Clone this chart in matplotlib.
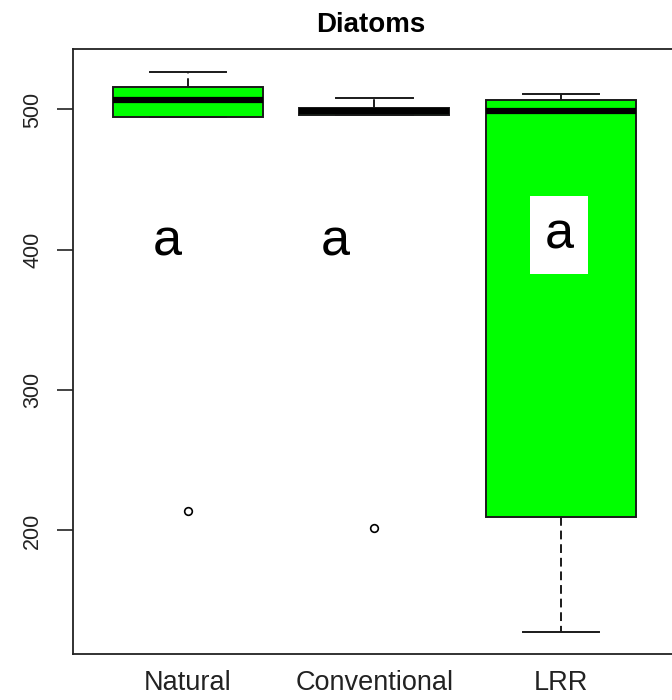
import matplotlib
matplotlib.use("Agg")
import matplotlib.pyplot as plt

# Data (Diatoms)
groups = ["Natural", "Conventional", "LRR"]
q1 = [494.4, 495.8, 209.8]
med = [506.6, 498.6, 498.9]
q3 = [515.8, 501.4, 506.8]
whislo = [494.4, 495.8, 127.4]
whishi = [526.5, 508.0, 511.0]
outliers = [[213.8], [201.7], []]

# group letters
letters = ["a", "a", "a"]
letter_x = [0.89, 1.79, 2.99]
letter_y = [396, 396, 401]

plt.rcParams["font.family"] = ["Liberation Sans", "DejaVu Sans"]

fig = plt.figure(figsize=(6.72, 7.0), dpi=100)
ax = fig.add_axes([73 / 672, 1 - 654.3 / 700, 603 / 672, 605 / 700])

stats = []
for i in range(len(groups)):
    stats.append({
        "label": groups[i],
        "q1": q1[i],
        "med": med[i],
        "q3": q3[i],
        "whislo": whislo[i],
        "whishi": whishi[i],
        "fliers": outliers[i],
    })

line_col = "#1a1a1a"
ax.bxp(
    stats,
    positions=[1, 2, 3],
    widths=0.804,
    capwidths=0.41,
    patch_artist=True,
    boxprops=dict(facecolor="#00ff00", edgecolor=line_col, linewidth=1.4),
    medianprops=dict(color="black", linewidth=4.5, solid_capstyle="butt"),
    whiskerprops=dict(color=line_col, linewidth=1.4, linestyle=(0, (4.5, 2.5))),
    capprops=dict(color=line_col, linewidth=1.4),
    flierprops=dict(marker="o", markersize=5.5, markerfacecolor="none",
                    markeredgecolor="black", markeredgewidth=1.2),
)

for i in range(len(letters)):
    if i == 2:
        ax.text(letter_x[i], letter_y[i], letters[i], fontsize=37.5,
                ha="center", va="baseline",
                bbox=dict(boxstyle="square,pad=0.28", facecolor="white", edgecolor="none"))
    else:
        ax.text(letter_x[i], letter_y[i], letters[i], fontsize=37.5,
                ha="center", va="baseline")

ax.set_xlim(0.3834, 3.617)
ax.set_ylim(111.7, 542.9)

ax.set_yticks([200, 300, 400, 500])
ax.set_yticklabels(["200", "300", "400", "500"], rotation=90, va="center",
                   fontsize=15.5, color="#222222")
ax.set_xticks([1, 2, 3])
ax.set_xticklabels(groups, fontsize=19.5, color="#222222")

ax.tick_params(axis="y", length=11.5, width=1.2, pad=10, colors="#222222")
ax.tick_params(axis="x", length=0, pad=11)
ax.tick_params(axis="y", labelcolor="#222222")

for s in ax.spines.values():
    s.set_linewidth(1.3)
    s.set_color("#222222")

fig.text(370.5 / 672, 1 - 25 / 700, "Diatoms", fontsize=20, fontweight="bold",
         ha="center", va="center")

plt.savefig("out.png", dpi=100)
